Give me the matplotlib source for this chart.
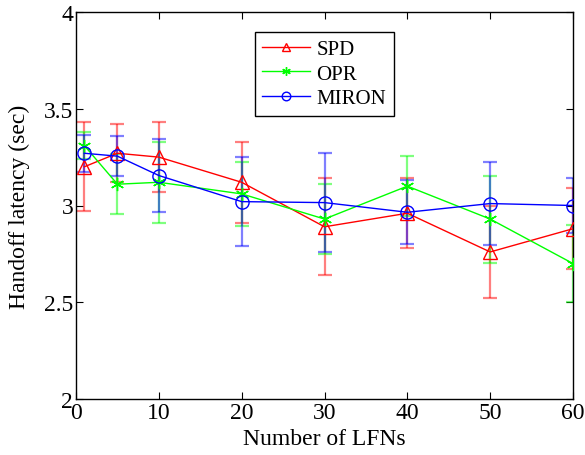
import matplotlib.pyplot as plt

plt.rcParams['font.family'] = ['Liberation Serif', 'DejaVu Serif']
plt.rcParams['mathtext.fontset'] = 'stix'

# data
lfns = [1, 5, 10, 20, 30, 40, 50, 60]

spd = [3.20, 3.27, 3.25, 3.12, 2.89, 2.96, 2.76, 2.88]
spd_err = [0.23, 0.15, 0.18, 0.21, 0.25, 0.18, 0.24, 0.21]

opr = [3.31, 3.11, 3.12, 3.06, 2.93, 3.10, 2.93, 2.70]
opr_err = [0.07, 0.155, 0.21, 0.165, 0.18, 0.155, 0.225, 0.20]

miron = [3.27, 3.255, 3.155, 3.02, 3.015, 2.965, 3.01, 3.00]
miron_err = [0.095, 0.105, 0.19, 0.23, 0.255, 0.165, 0.215, 0.14]

series = [
    ('SPD', spd, spd_err, '#ff0000', '^'),
    ('OPR', opr, opr_err, '#00ff00', (6, 2, 0)),
    ('MIRON', miron, miron_err, '#0000ff', 'o'),
]

fig = plt.figure(figsize=(5.85, 4.56), dpi=100)
ax = fig.add_axes([76 / 585, 56 / 456, 497 / 585, 387 / 456])

for name, vals, errs, col, mk in series:
    ax.errorbar(lfns, vals, yerr=errs, fmt='none', ecolor=col, elinewidth=1.6,
                capsize=5, capthick=1.6, alpha=0.5, zorder=2)
for name, vals, errs, col, mk in series:
    ax.plot(lfns, vals, color=col, lw=1.0, marker=mk, markersize=9.5,
            markerfacecolor='none', markeredgecolor=col, markeredgewidth=1.0,
            label=name, zorder=3)

ax.set_xlim(0, 60)
ax.set_ylim(2, 4)
ax.set_xticks(range(0, 61, 10))
ax.set_yticks([2, 2.5, 3, 3.5, 4])
ax.set_yticklabels(['2', '2.5', '3', '3.5', '4'])
ax.tick_params(direction='in', top=True, right=True, labelsize=17, length=5,
               width=0.8, pad=2)
for s in ax.spines.values():
    s.set_linewidth(1.0)

ax.set_xlabel('Number of LFNs', fontsize=17, labelpad=4)
ax.set_ylabel('Handoff latency (sec)', fontsize=17, labelpad=10)

leg = ax.legend(loc='upper left', bbox_to_anchor=(255 / 585, 1 - 33 / 456),
                bbox_transform=fig.transFigure, borderaxespad=0, fontsize=15,
                fancybox=False, framealpha=1, edgecolor='black',
                markerscale=0.65, handlelength=2.3, labelspacing=0.25,
                borderpad=0.35, handletextpad=0.3)
leg.get_frame().set_linewidth(1.0)

fig.savefig('out.png', dpi=100)
